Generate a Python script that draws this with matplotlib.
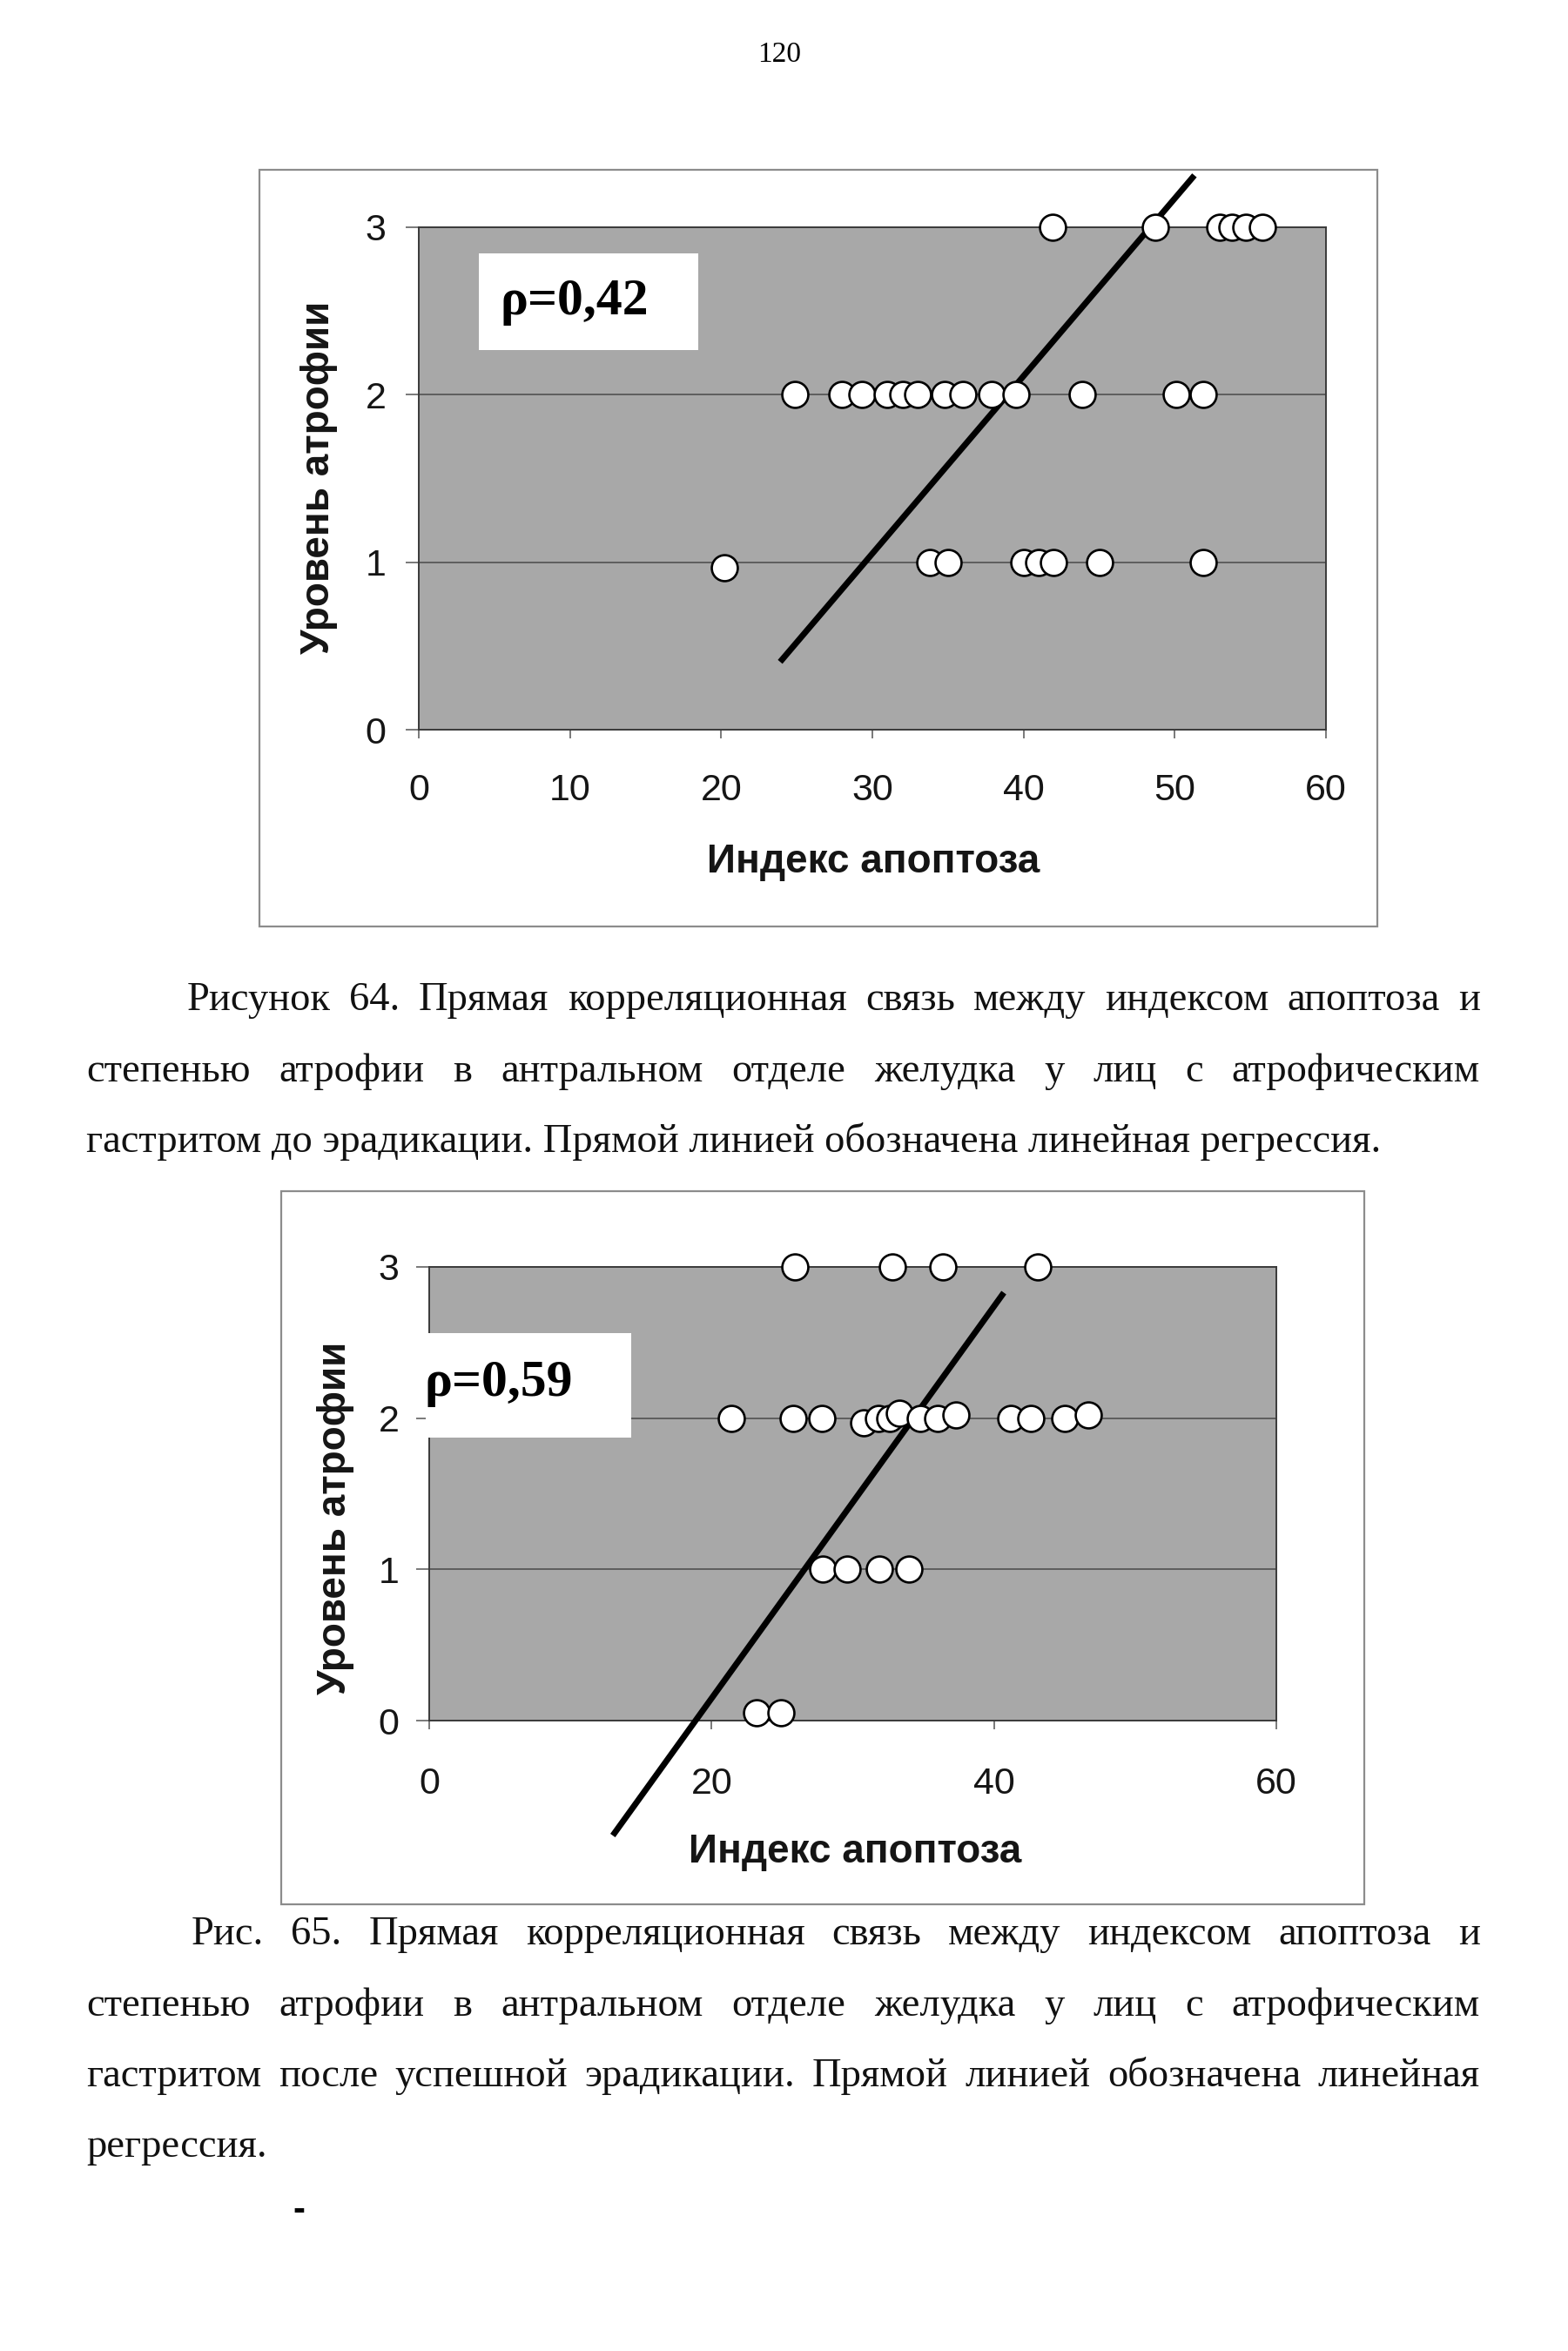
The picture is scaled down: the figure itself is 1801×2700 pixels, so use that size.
import matplotlib
matplotlib.use("Agg")
import matplotlib.pyplot as plt
from matplotlib.patches import Rectangle

# ---------------- data ----------------
# Figure 64 (before eradication)
fig64_index = [41.9, 48.7, 53.0, 53.8, 54.7, 55.8,
               24.9, 28.0, 29.3, 31.0, 32.0, 33.0, 34.8, 36.0, 37.9, 39.5, 43.9, 50.1, 51.9,
               20.2, 33.8, 35.0, 40.0, 41.0, 42.0, 45.0, 51.9]
fig64_atrophy = [3, 3, 3, 3, 3, 3,
                 2, 2, 2, 2, 2, 2, 2, 2, 2, 2, 2, 2, 2,
                 0.965, 1, 1, 1, 1, 1, 1, 1]
fig64_reg_x = [23.9, 51.3]
fig64_reg_y = [0.405, 3.31]
fig64_rho = "ρ=0,42"
fig64_xticks = [0, 10, 20, 30, 40, 50, 60]

# Figure 65 (after eradication)
fig65_index = [25.9, 32.8, 36.4, 43.1,
               21.4, 25.8, 27.8, 30.8, 31.8, 32.6, 33.3, 34.8, 36.0, 37.3, 41.2, 42.6, 45.0, 46.7,
               27.9, 29.6, 31.9, 34.0,
               23.2, 24.9]
fig65_atrophy = [3, 3, 3, 3,
                 2, 2, 2, 1.97, 2, 2, 2.03, 2, 2, 2.02, 2, 2, 2, 2.02,
                 1, 1, 1, 1,
                 0.05, 0.05]
fig65_reg_x = [13.0, 40.7]
fig65_reg_y = [-0.76, 2.83]
fig65_rho = "ρ=0,59"
fig65_xticks = [0, 20, 40, 60]

yticks = [0, 1, 2, 3]
xlabel = "Индекс апоптоза"
ylabel = "Уровень атрофии"
page_number = "120"

caption64 = [
    "Рисунок 64. Прямая корреляционная связь между индексом апоптоза и",
    "степенью атрофии в антральном отделе желудка у лиц с атрофическим",
    "гастритом до эрадикации. Прямой линией обозначена линейная регрессия.",
]
caption65 = [
    "Рис. 65. Прямая корреляционная связь между индексом апоптоза и",
    "степенью атрофии в антральном отделе желудка у лиц с атрофическим",
    "гастритом после успешной эрадикации. Прямой линией обозначена линейная",
    "регрессия.",
]

# ---------------- layout ----------------
W, H, DPI = 1801, 2700, 100
SANS = ["Liberation Sans", "DejaVu Sans"]
SERIF = ["Liberation Serif", "DejaVu Serif"]
PLOT_BG = "#a8a8a8"
SPINE = "#3a3a3a"

fig = plt.figure(figsize=(W / DPI, H / DPI), dpi=DPI, facecolor="white")


def fx(x):
    return x / W


def fy(y):
    return 1 - y / H


def frame(x0, y0, x1, y1):
    fig.add_artist(Rectangle((fx(x0), fy(y1)), fx(x1 - x0), (y1 - y0) / H,
                             transform=fig.transFigure, fill=False,
                             ec="#8c8c8c", lw=1.6, zorder=0))


def make_chart(box, xs, ys, rx, ry, xticks, ytick_len, ytick_pad, xtick_pad):
    l, t, r, b = box
    ax = fig.add_axes([fx(l), fy(b), fx(r - l), (b - t) / H])
    ax.set_facecolor(PLOT_BG)
    ax.set_xlim(0, 60)
    ax.set_ylim(0, 3)
    ax.set_xticks(xticks)
    ax.set_yticks(yticks)
    for s in ax.spines.values():
        s.set_color(SPINE)
        s.set_linewidth(1.4)
    ax.grid(axis="y", color="#4a4a4a", lw=1.1)
    ax.set_axisbelow(True)
    ax.tick_params(axis="x", direction="out", length=7, width=1.1, color="#555555",
                   labelsize=31, pad=xtick_pad, labelcolor="#151515")
    ax.tick_params(axis="y", direction="out", length=ytick_len, width=1.1, color="#555555",
                   labelsize=31, pad=ytick_pad, labelcolor="#151515")
    for lab in ax.get_xticklabels() + ax.get_yticklabels():
        lab.set_family(SANS)
    ax.plot(rx, ry, color="black", lw=5.0, solid_capstyle="butt", clip_on=False, zorder=3)
    ax.plot(xs, ys, linestyle="none", marker="o", markersize=21.5,
            markerfacecolor="white", markeredgecolor="black", markeredgewidth=1.9,
            clip_on=False, zorder=4)
    return ax


# ----- Figure 64 -----
frame(298, 195, 1582, 1064)
ax1 = make_chart((481, 261, 1523, 838), fig64_index, fig64_atrophy, fig64_reg_x, fig64_reg_y,
                 fig64_xticks, ytick_len=11, ytick_pad=16, xtick_pad=29)
fig.add_artist(Rectangle((fx(550), fy(402)), fx(252), 111 / H, transform=fig.transFigure,
                         fc="white", ec="none", zorder=2))
fig.text(fx(574), fy(347), fig64_rho, ha="left", va="center", fontsize=43,
         fontweight="bold", family=SERIF, zorder=3)
fig.text(fx(366), fy(548), ylabel, rotation=90, ha="center", va="center", fontsize=33,
         fontweight="bold", family=SANS, color="#151515")
fig.text(fx(1003), fy(1002), xlabel, ha="center", va="baseline", fontsize=33,
         fontweight="bold", family=SANS, color="#151515")

# ----- Figure 65 -----
frame(323, 1368, 1567, 2187)
ax2 = make_chart((493, 1455, 1466, 1976), fig65_index, fig65_atrophy, fig65_reg_x, fig65_reg_y,
                 fig65_xticks, ytick_len=11, ytick_pad=14, xtick_pad=31)
fig.add_artist(Rectangle((fx(489), fy(1651)), fx(236), 120 / H, transform=fig.transFigure,
                         fc="white", ec="none", zorder=2))
fig.text(fx(487), fy(1589), fig65_rho, ha="left", va="center", fontsize=43,
         fontweight="bold", family=SERIF, zorder=3)
fig.text(fx(385), fy(1743), ylabel, rotation=90, ha="center", va="center", fontsize=33,
         fontweight="bold", family=SANS, color="#151515")
fig.text(fx(982), fy(2139), xlabel, ha="center", va="baseline", fontsize=33,
         fontweight="bold", family=SANS, color="#151515")

# ----- page text -----
fig.text(fx(895), fy(71), page_number, ha="center", va="baseline", fontsize=24, family=SERIF)
fig.text(fx(343), fy(2550), "-", ha="center", va="baseline", fontsize=30,
         fontweight="bold", family=SANS)

renderer = fig.canvas.get_renderer()


def width_of(s, size):
    t = fig.text(0, 0, s, fontsize=size, family=SERIF)
    w = t.get_window_extent(renderer).width
    t.remove()
    return w


cap_size = 10 * 1488 / width_of(caption64[2], 10)


def put_line(s, x0, x1, base, justify):
    if not justify:
        fig.text(fx(x0), fy(base), s, ha="left", va="baseline", fontsize=cap_size,
                 family=SERIF, color="#111111")
        return
    words = s.split(" ")
    widths = [width_of(w, cap_size) for w in words]
    gap = (x1 - x0 - sum(widths)) / (len(words) - 1)
    x = x0
    for w, wd in zip(words, widths):
        fig.text(fx(x), fy(base), w, ha="left", va="baseline", fontsize=cap_size,
                 family=SERIF, color="#111111")
        x += wd + gap


put_line(caption64[0], 215, 1700, 1160, True)
put_line(caption64[1], 99, 1700, 1242, True)
put_line(caption64[2], 99, 1700, 1323, False)

put_line(caption65[0], 220, 1700, 2233, True)
put_line(caption65[1], 99, 1700, 2315, True)
put_line(caption65[2], 99, 1700, 2396, True)
put_line(caption65[3], 99, 1700, 2477, False)

fig.savefig("out.png", dpi=DPI, facecolor="white")
